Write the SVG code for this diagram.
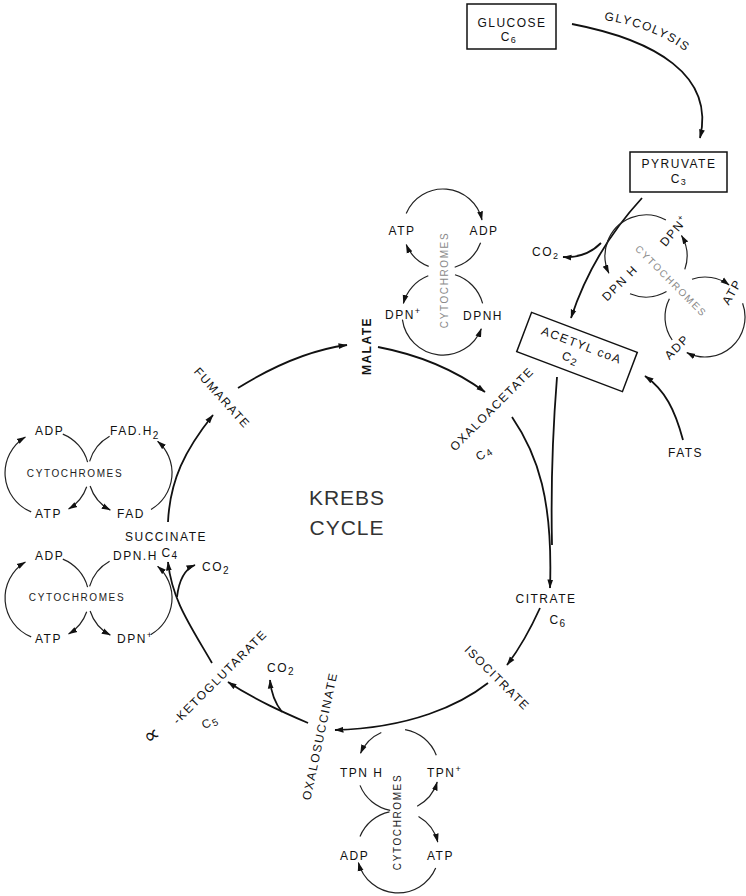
<svg xmlns="http://www.w3.org/2000/svg" width="746" height="896" viewBox="0 0 746 896">
<style>
.t{font-family:"Liberation Sans",Arial,sans-serif;font-size:12px;letter-spacing:1.5px;fill:#111}
.cy{font-family:"Liberation Sans",Arial,sans-serif;font-size:10px;letter-spacing:1.6px;fill:#222}
.g{fill:#8a8a8a}
.p{fill:none;stroke:#111;stroke-width:1.8}
.c{fill:none;stroke:#222;stroke-width:1.2}
.box{fill:#fff;stroke:#111;stroke-width:1.5}
.k{font-family:"Liberation Sans",Arial,sans-serif;font-size:21px;letter-spacing:1px;fill:#333}
</style>
<defs>
<marker id="ah" markerUnits="userSpaceOnUse" markerWidth="10" markerHeight="7" refX="8.5" refY="3.5" orient="auto">
<path d="M0,0.6 L9,3.5 L0,6.4 z" fill="#111"/>
</marker>
<path id="glyPath" d="M604,20 Q682,32 716,84"/>
</defs>
<rect width="746" height="896" fill="#fff"/>

<g id="connectors">
<path class="p" d="M572,24 C655,40 715,75 700,138" marker-end="url(#ah)" stroke-width="1.5"/>
<path class="p" d="M642,198 C620,222 590,260 571,318" marker-end="url(#ah)"/>
<path class="p" d="M601,243 C590,254 578,258 563,257" marker-end="url(#ah)" stroke-width="1.4"/>
<path class="p" d="M683,440 C675,410 665,390 645,376" marker-end="url(#ah)"/>
<path class="p" d="M557,377 C552,440 551,500 552,545"/>
<path class="p" d="M512,417 C538,455 553,500 550,588" marker-end="url(#ah)"/>
<path class="p" d="M540,608 C530,630 520,648 507,665" marker-end="url(#ah)"/>
<path class="p" d="M488,683 C460,705 410,728 335,730" marker-end="url(#ah)"/>
<path class="p" d="M308,723 C285,713 255,700 228,682" marker-end="url(#ah)" stroke-width="2.2"/>
<path class="p" d="M282,712 C275,703 271,692 270,680" marker-end="url(#ah)" stroke-width="1.4"/>
<path class="p" d="M212,663 C190,625 172,600 168,562" marker-end="url(#ah)" stroke-width="2.2"/>
<path class="p" d="M177,597 C179,580 185,569 195,565" marker-end="url(#ah)" stroke-width="1.4"/>
<path class="p" d="M168,522 C170,480 185,450 213,415" marker-end="url(#ah)"/>
<path class="p" d="M238,388 C275,365 310,350 347,345" marker-end="url(#ah)"/>
<path class="p" d="M378,347 C420,355 455,370 485,392" marker-end="url(#ah)" stroke-width="2"/>
</g>

<g id="glucose">
<rect class="box" x="467" y="4" width="89" height="45"/>
<text class="t" x="512" y="27" text-anchor="middle" font-size="11" letter-spacing="1.8">GLUCOSE</text>
<text class="t" x="509" y="41" text-anchor="middle" font-size="11">C<tspan dy="2" font-size="9">6</tspan></text>
</g>

<g id="glycolysis-label">
<text class="t" font-size="11" letter-spacing="6" fill="#555"><textPath href="#glyPath">GLYCOLYSIS</textPath></text>
</g>

<g id="pyruvate">
<rect class="box" x="630" y="152" width="97" height="40"/>
<text class="t" x="679" y="168" text-anchor="middle" font-size="11" letter-spacing="1.6">PYRUVATE</text>
<text class="t" x="679" y="183" text-anchor="middle" font-size="11">C<tspan dy="2" font-size="9">3</tspan></text>
</g>

<g id="co2-pyruvate">
<text class="t" x="532" y="256" font-size="11" letter-spacing="1">CO<tspan dy="3" font-size="9">2</tspan></text>
</g>

<g id="acetyl-coa" transform="translate(577,352) rotate(20.7)">
<rect class="box" x="-56.5" y="-21" width="113" height="42"/>
<text class="t" x="2" y="-4" text-anchor="middle" font-size="12">ACETYL coA</text>
<text class="t" x="-4" y="12" text-anchor="middle" font-size="12">C<tspan dy="2" font-size="10">2</tspan></text>
</g>

<g id="fats">
<text class="t" x="668" y="457" letter-spacing="4">FATS</text>
</g>

<g id="cytochromes-pyruvate">
<path class="c" d="M607.2,242.6 A41 41 0 0 1 665.9,220.1"/>
<path class="c" d="M684.8,269.4 A41 41 0 0 0 681.5,235.5" marker-end="url(#ah)"/>
<path class="c" d="M608.2,240 A41 41 0 0 0 608.9,273.3" marker-end="url(#ah)"/>
<path class="c" d="M630,293.8 A41 41 0 0 0 666.5,291.5"/>
<path class="c" d="M692,279.2 A40 40 0 0 1 729.1,285" marker-end="url(#ah)"/>
<path class="c" d="M742.6,303.3 A40 40 0 0 1 686.8,352.6" marker-end="url(#ah)"/>
<path class="c" d="M672.2,340 A40 40 0 0 1 669.4,298.8"/>
<text class="t" transform="translate(674,231) rotate(-50)" y="4" text-anchor="middle" font-size="11" letter-spacing="1">DPN<tspan dy="-5" font-size="8">+</tspan></text>
<text class="t" transform="translate(620,283) rotate(-45)" y="4" text-anchor="middle" font-size="11" letter-spacing="1">DPN H</text>
<text class="cy g" transform="translate(671,281) rotate(45)" y="3.5" text-anchor="middle">CYTOCHROMES</text>
<text class="t" transform="translate(732,292) rotate(-60)" y="4" text-anchor="middle" font-size="10.5" letter-spacing="0.8">ATP</text>
<text class="t" transform="translate(677,347) rotate(-45)" y="4" text-anchor="middle" font-size="11" letter-spacing="1">ADP</text>
</g>

<g id="cytochromes-malate">
<path class="c" d="M406.2,213.4 A40 40 0 0 1 482,220" marker-end="url(#ah)"/>
<path class="c" d="M480.6,242.7 A40 40 0 0 1 454.7,267.2"/>
<path class="c" d="M428.7,266.4 A40 40 0 0 1 406.2,244.6" marker-end="url(#ah)"/>
<path class="c" d="M428.3,275.7 A41 41 0 0 0 403.4,303.4" marker-end="url(#ah)"/>
<path class="c" d="M402.4,319.7 A41 41 0 0 0 481.3,328.7" marker-end="url(#ah)"/>
<path class="c" d="M455,274.8 A41 41 0 0 1 482.6,303.4"/>
<text class="t" x="402" y="235" text-anchor="middle" letter-spacing="1">ATP</text>
<text class="t" x="484" y="235" text-anchor="middle" letter-spacing="1">ADP</text>
<text class="t" x="385" y="319" letter-spacing="1">DPN<tspan dy="-5" font-size="9">+</tspan></text>
<text class="t" x="483" y="320" text-anchor="middle" letter-spacing="1">DPNH</text>
<text class="cy g" transform="translate(444,280) rotate(-90)" y="3.5" text-anchor="middle">CYTOCHROMES</text>
</g>

<g id="cytochromes-fad">
<path class="c" d="M31.2,511.9 A42 42 0 0 1 25.4,437" marker-end="url(#ah)"/>
<path class="c" d="M62.8,434.1 A42 42 0 0 1 87.6,462.1"/>
<path class="c" d="M86.7,486.7 A42 42 0 0 1 68.6,509" marker-end="url(#ah)"/>
<path class="c" d="M109.6,436.2 A42 42 0 0 0 89.6,461.4"/>
<path class="c" d="M90.1,486 A42 42 0 0 0 110.3,510.1" marker-end="url(#ah)"/>
<path class="c" d="M151,509.4 A42 42 0 0 0 157.6,441.3" marker-end="url(#ah)"/>
<text class="t" x="35" y="435" letter-spacing="1">ADP</text>
<text class="t" x="110" y="435" letter-spacing="0.5">FAD.H<tspan dy="4" font-size="10">2</tspan></text>
<text class="cy" x="75" y="477" text-anchor="middle">CYTOCHROMES</text>
<text class="t" x="35" y="518" letter-spacing="1">ATP</text>
<text class="t" x="117" y="518" letter-spacing="1">FAD</text>
</g>

<g id="cytochromes-dpn">
<path class="c" d="M31.2,636.9 A42 42 0 0 1 25.4,562" marker-end="url(#ah)"/>
<path class="c" d="M62.8,559.1 A42 42 0 0 1 87.6,587.1"/>
<path class="c" d="M86.7,611.7 A42 42 0 0 1 68.6,634" marker-end="url(#ah)"/>
<path class="c" d="M109.6,561.2 A42 42 0 0 0 89.6,586.4"/>
<path class="c" d="M90.1,611 A42 42 0 0 0 110.3,635.1" marker-end="url(#ah)"/>
<path class="c" d="M151,634.4 A42 42 0 0 0 157.6,566.3" marker-end="url(#ah)"/>
<text class="t" x="35" y="560" letter-spacing="1">ADP</text>
<text class="t" x="113" y="560" letter-spacing="0.5">DPN.H</text>
<text class="cy" x="77" y="601" text-anchor="middle">CYTOCHROMES</text>
<text class="t" x="35" y="643" letter-spacing="1">ATP</text>
<text class="t" x="117" y="643" letter-spacing="1">DPN<tspan dy="-5" font-size="9">+</tspan></text>
</g>

<g id="cytochromes-tpn">
<path class="c" d="M381.3,732.5 A41 41 0 0 0 360.5,753.3" marker-end="url(#ah)"/>
<path class="c" d="M405.1,729.6 A41 41 0 0 1 436.3,755.3"/>
<path class="c" d="M360,785.4 A41 41 0 0 0 390.2,810.3"/>
<path class="c" d="M417.2,806.2 A41 41 0 0 0 437.2,782" marker-end="url(#ah)"/>
<path class="c" d="M389.5,811.9 A41 41 0 0 0 360,836.6"/>
<path class="c" d="M418.5,816.5 A41 41 0 0 1 437.8,842.1" marker-end="url(#ah)"/>
<path class="c" d="M435.7,868 A41 41 0 0 1 358.4,862.6" marker-end="url(#ah)"/>
<text class="t" x="340" y="777" letter-spacing="1">TPN H</text>
<text class="t" x="427" y="777" letter-spacing="1">TPN<tspan dy="-5" font-size="9">+</tspan></text>
<text class="cy" transform="translate(397,822) rotate(-90)" y="3.5" text-anchor="middle">CYTOCHROMES</text>
<text class="t" x="340" y="860" letter-spacing="1">ADP</text>
<text class="t" x="427" y="860" letter-spacing="1">ATP</text>
</g>

<g id="krebs-cycle">
<text class="k" x="347" y="505" text-anchor="middle">KREBS</text>
<text class="k" x="347" y="535" text-anchor="middle">CYCLE</text>
</g>

<g id="malate">
<text class="t" transform="translate(366,346) rotate(-90)" y="4.5" text-anchor="middle" letter-spacing="2" font-weight="bold" font-size="11.5">MALATE</text>
</g>

<g id="oxaloacetate">
<text class="t" transform="translate(492,409) rotate(-45)" y="4" text-anchor="middle" letter-spacing="1.3">OXALOACETATE</text>
<text class="t" transform="translate(484,453) rotate(-35)" y="4" text-anchor="middle">C<tspan dy="2" font-size="10">4</tspan></text>
</g>

<g id="citrate">
<text class="t" x="546" y="603" text-anchor="middle">CITRATE</text>
<text class="t" x="558" y="624" text-anchor="middle">C<tspan dy="3" font-size="10">6</tspan></text>
</g>

<g id="isocitrate">
<text class="t" transform="translate(497,678) rotate(45)" y="4" text-anchor="middle">ISOCITRATE</text>
</g>

<g id="oxalosuccinate">
<text class="t" transform="translate(320,736) rotate(-78)" y="4" text-anchor="middle" letter-spacing="1">OXALOSUCCINATE</text>
</g>

<g id="co2-oxalosuccinate">
<text class="t" x="267" y="672" letter-spacing="1">CO<tspan dy="3" font-size="10">2</tspan></text>
</g>

<g id="ketoglutarate">
<text transform="translate(152,736) rotate(-30)" y="6" text-anchor="middle" font-family="'DejaVu Sans',sans-serif" font-size="22" fill="#111">∝</text>
<text class="t" transform="translate(220,677) rotate(-45)" y="4" text-anchor="middle">-KETOGLUTARATE</text>
<text class="t" transform="translate(210,722) rotate(-25)" y="4" text-anchor="middle">C<tspan dy="2" font-size="10">5</tspan></text>
</g>

<g id="co2-ketoglutarate">
<text class="t" x="202" y="571" letter-spacing="1">CO<tspan dy="3" font-size="10">2</tspan></text>
</g>

<g id="succinate">
<text class="t" x="166" y="541" text-anchor="middle">SUCCINATE</text>
<text class="t" x="170" y="557" text-anchor="middle">C<tspan dy="2" font-size="10">4</tspan></text>
</g>

<g id="fumarate">
<text class="t" transform="translate(222,398) rotate(48)" y="4" text-anchor="middle">FUMARATE</text>
</g>
</svg>
